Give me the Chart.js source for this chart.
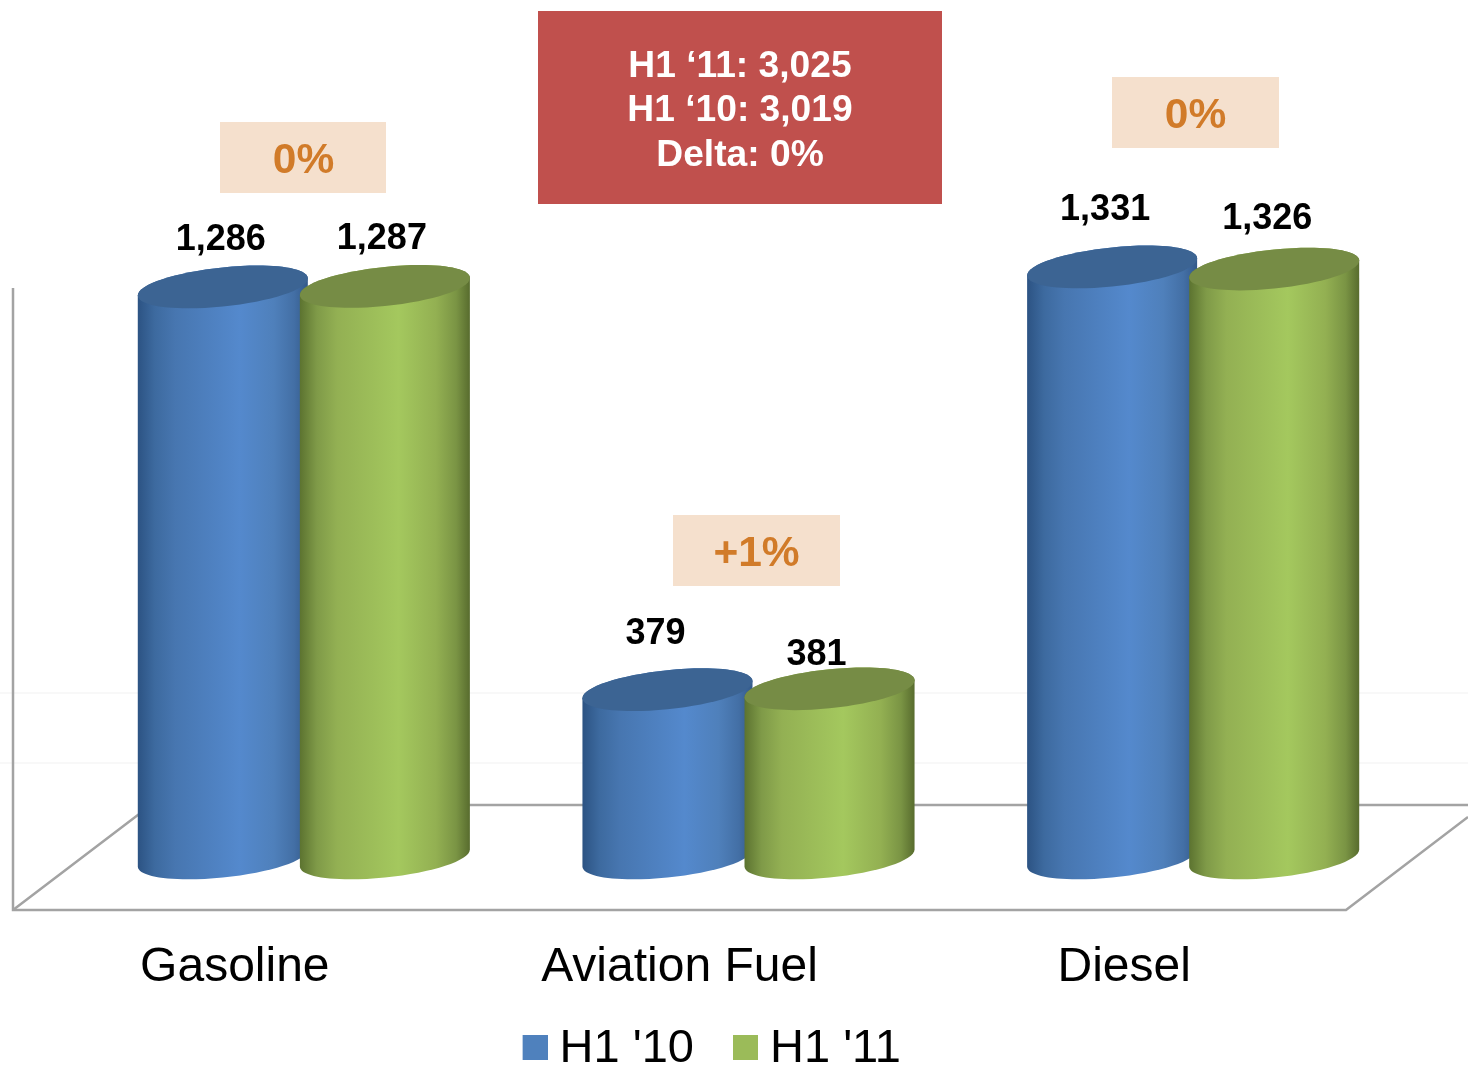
<!DOCTYPE html>
<html>
<head>
<meta charset="utf-8">
<style>html,body{margin:0;padding:0;background:#fff}canvas{display:block}</style>
<script src="https://cdn.jsdelivr.net/npm/chart.js@4/dist/chart.umd.min.js"></script>
</head>
<body>
<div style="width:1468px;height:1066px"><canvas id="c" width="1468" height="1066"></canvas></div>
<script>
const categories = ["Gasoline", "Aviation Fuel", "Diesel"];
const seriesNames = ["H1 '10", "H1 '11"];
const h110 = [1286, 379, 1331];
const h111 = [1287, 381, 1326];
const deltas = ["0%", "+1%", "0%"];
const summary = ["H1 \u201811: 3,025", "H1 \u201810: 3,019", "Delta: 0%"];

const FONT = '"Liberation Sans", Arial, sans-serif';
const SWATCH = ["#4f81bd", "#9bbb59"];
const TOPS = ["#3c6493", "#768c45"];
const RAMPS = [
  [[0,"#2c5383"],[0.1,"#3d6a9f"],[0.22,"#4776b0"],[0.6,"#5489cd"],[0.8,"#4f80bb"],[0.92,"#436fa5"],[1,"#33598a"]],
  [[0,"#5c7330"],[0.1,"#7f9a48"],[0.22,"#93b053"],[0.58,"#a4c85e"],[0.8,"#93b052"],[0.92,"#7a9444"],[1,"#586c2e"]]
];
// pixel lift of each value label above its bar top, and sideways shift, per dataset
const LABEL_LIFT = [[50,59,60],[50,37,53]];
const LABEL_SHIFT = [[-2,-12,-7],[-3,-13,-7]];

function icon(color){
  const k=document.createElement('canvas');k.width=36;k.height=29;
  const g=k.getContext('2d');g.fillStyle=color;g.fillRect(11,0,25,25);return k;
}
const icons = SWATCH.map(icon);

function box(ctx,x,y,w,h,fill){ctx.fillStyle=fill;ctx.fillRect(x,y,w,h);}
function text(ctx,s,x,y,font,color){
  ctx.font=font;ctx.fillStyle=color;ctx.textAlign='center';ctx.textBaseline='middle';ctx.fillText(s,x,y+3);
}
// End-cap curves in skewed local coordinates
const KAPPA=0.56;
function upperHalf(ctx,a,b,y){
  ctx.lineTo(a,y);
  ctx.bezierCurveTo(a,y-KAPPA*b,KAPPA*a,y-b,0,y-b);
  ctx.bezierCurveTo(-KAPPA*a,y-b,-a,y-KAPPA*b,-a,y);
}
function lowerHalf(ctx,a,b,y){
  ctx.lineTo(-a,y);
  ctx.bezierCurveTo(-a,y+KAPPA*b,-KAPPA*a,y+b,0,y+b);
  ctx.bezierCurveTo(KAPPA*a,y+b,a,y+KAPPA*b,a,y);
}

const cylinders = {
  id:'cylinders',
  afterLayout(chart){
    const l=chart.legend; l.left-=36.5; l.right-=36.5; l.top+=17; l.bottom+=17;
    chart.scales.x.bottom+=50;
  },
  beforeDatasetsDraw(chart){
    const ctx=chart.ctx;
    ctx.save();
    // faint back-wall gridlines
    ctx.strokeStyle='#f6f6f6';ctx.lineWidth=1.5;
    [693,763].forEach(y=>{ctx.beginPath();ctx.moveTo(0,y);ctx.lineTo(1468,y);ctx.stroke();});
    // floor and wall frame
    ctx.strokeStyle='#a3a3a3';ctx.lineWidth=2.5;ctx.lineJoin='miter';
    ctx.beginPath();ctx.moveTo(13,288);ctx.lineTo(13,910);ctx.lineTo(1346,910);ctx.lineTo(1468,817);ctx.stroke();
    ctx.beginPath();ctx.moveTo(13,910);ctx.lineTo(151,805);ctx.lineTo(1468,805);ctx.stroke();
    // cylinders, left to right, the later series overlapping the earlier one
    const b=19.5, rise=8.5;
    chart.data.datasets.forEach((ds,di)=>{
      chart.getDatasetMeta(di).data.forEach(el=>{
        const p=el.getProps(['x','y','base','width'],true);
        const a=p.width/2;
        ctx.save();
        ctx.translate(p.x,0);
        ctx.transform(1,-rise/a,0,1,0,0);
        const g=ctx.createLinearGradient(-a,0,a,0);
        RAMPS[di].forEach(s=>g.addColorStop(s[0],s[1]));
        ctx.fillStyle=g;
        ctx.beginPath();
        ctx.moveTo(a,p.y);
        upperHalf(ctx,a,b,p.y);
        lowerHalf(ctx,a,b,p.base);
        ctx.closePath();ctx.fill();
        ctx.fillStyle=TOPS[di];
        ctx.beginPath();
        ctx.moveTo(a,p.y);
        upperHalf(ctx,a,b,p.y);
        lowerHalf(ctx,a,b,p.y);
        ctx.closePath();ctx.fill();
        ctx.restore();
      });
    });
    ctx.restore();
  },
  beforeDatasetDraw(){return false;},
  afterDatasetsDraw(chart){
    const ctx=chart.ctx;
    ctx.save();
    chart.data.datasets.forEach((ds,di)=>{
      chart.getDatasetMeta(di).data.forEach((el,i)=>{
        const s=ds.data[i].toLocaleString('en-US');
        text(ctx,s,el.x+LABEL_SHIFT[di][i],el.y-LABEL_LIFT[di][i],'bold 36px '+FONT,'#000');
      });
    });
    // summary box
    box(ctx,538,11,404,193,'#c0504d');
    [64,108,153].forEach((y,i)=>text(ctx,summary[i],740,y,'bold 37.2px '+FONT,'#fff'));
    // delta boxes
    [[220,122,166],[673,515,167],[1112,77,167]].forEach((q,i)=>{
      box(ctx,q[0],q[1],q[2],71,'#f5e0cd');
      text(ctx,deltas[i],q[0]+83.5,q[1]+36.5,'bold 42.5px '+FONT,'#d17b29');
    });
    ctx.restore();
  }
};

new Chart(document.getElementById('c'),{
  type:'bar',
  data:{
    labels:categories,
    datasets:[
      {label:seriesNames[0],data:h110,backgroundColor:SWATCH[0]},
      {label:seriesNames[1],data:h111,backgroundColor:SWATCH[1]}
    ]
  },
  plugins:[cylinders],
  options:{
    responsive:false,
    animation:false,
    events:[],
    categoryPercentage:0.729,
    barPercentage:1.049,
    layout:{padding:{left:81.5,right:52.5,top:0,bottom:0}},
    scales:{
      x:{
        grid:{display:false,drawTicks:false},
        border:{display:false},
        ticks:{labelOffset:-69,padding:81,maxRotation:0,autoSkip:false,color:'#000',font:{family:FONT,size:48}},
        afterFit(s){s.height=111.5;}
      },
      y:{display:false,min:0,max:1932}
    },
    plugins:{
      tooltip:{enabled:false},
      title:{display:false},
      legend:{
        display:true,position:'bottom',
        labels:{
          usePointStyle:true,pointStyleWidth:13,boxHeight:25,padding:39.5,color:'#000',
          font:{family:FONT,size:47},
          generateLabels(chart){
            return Chart.defaults.plugins.legend.labels.generateLabels(chart).map((l,i)=>Object.assign(l,{pointStyle:icons[i]}));
          }
        }
      }
    }
  }
});
</script>
</body>
</html>
